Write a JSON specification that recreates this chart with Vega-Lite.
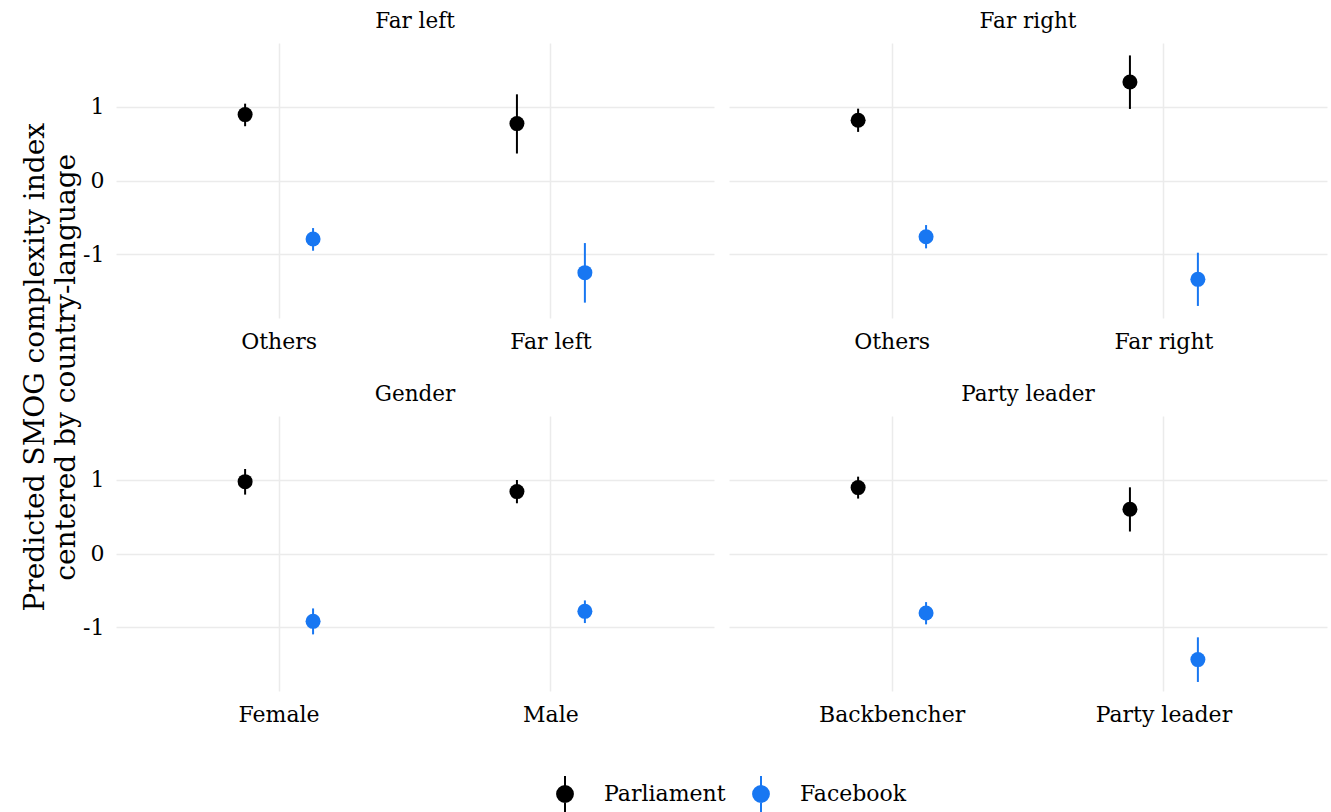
{
  "$schema": "https://vega.github.io/schema/vega-lite/v6.json",
  "background": "white",
  "padding": {"left": 21, "top": 10, "right": 3, "bottom": 2},
  "title": {
    "text": ["Predicted SMOG complexity index", "centered by country-language"],
    "orient": "left",
    "anchor": "middle",
    "font": "DejaVu Serif",
    "fontSize": 28,
    "fontWeight": "normal",
    "lineHeight": 31,
    "color": "black",
    "offset": 2,
    "dx": 46
  },
  "data": {
    "values": [
      {"panel": "Far left", "group": "Others", "source": "Parliament", "est": 0.896, "lo": 0.738, "hi": 1.045},
      {"panel": "Far left", "group": "Others", "source": "Facebook", "est": -0.796, "lo": -0.955, "hi": -0.647},
      {"panel": "Far left", "group": "Far left", "source": "Parliament", "est": 0.774, "lo": 0.367, "hi": 1.172},
      {"panel": "Far left", "group": "Far left", "source": "Facebook", "est": -1.253, "lo": -1.661, "hi": -0.851},
      {"panel": "Far right", "group": "Others", "source": "Parliament", "est": 0.819, "lo": 0.661, "hi": 0.977},
      {"panel": "Far right", "group": "Others", "source": "Facebook", "est": -0.765, "lo": -0.923, "hi": -0.606},
      {"panel": "Far right", "group": "Far right", "source": "Parliament", "est": 1.339, "lo": 0.973, "hi": 1.701},
      {"panel": "Far right", "group": "Far right", "source": "Facebook", "est": -1.344, "lo": -1.706, "hi": -0.982},
      {"panel": "Gender", "group": "Female", "source": "Parliament", "est": 0.977, "lo": 0.801, "hi": 1.149},
      {"panel": "Gender", "group": "Female", "source": "Facebook", "est": -0.923, "lo": -1.1, "hi": -0.747},
      {"panel": "Gender", "group": "Male", "source": "Parliament", "est": 0.842, "lo": 0.683, "hi": 1.0},
      {"panel": "Gender", "group": "Male", "source": "Facebook", "est": -0.787, "lo": -0.946, "hi": -0.638},
      {"panel": "Party leader", "group": "Backbencher", "source": "Parliament", "est": 0.896, "lo": 0.747, "hi": 1.045},
      {"panel": "Party leader", "group": "Backbencher", "source": "Facebook", "est": -0.81, "lo": -0.964, "hi": -0.661},
      {"panel": "Party leader", "group": "Party leader", "source": "Parliament", "est": 0.602, "lo": 0.299, "hi": 0.9},
      {"panel": "Party leader", "group": "Party leader", "source": "Facebook", "est": -1.443, "lo": -1.747, "hi": -1.14}
    ]
  },
  "facet": {
    "field": "panel",
    "type": "nominal",
    "header": {
      "title": null,
      "labelFont": "DejaVu Serif",
      "labelFontSize": 21.5,
      "labelColor": "black",
      "labelPadding": 11
    }
  },
  "columns": 2,
  "spacing": {"column": 15, "row": 31},
  "resolve": {"scale": {"x": "independent", "xOffset": "independent"}},
  "spec": {
    "width": 598,
    "height": 275,
    "encoding": {
      "x": {
        "field": "group",
        "type": "nominal",
        "sort": ["Others", "Far left", "Far right", "Female", "Male", "Backbencher", "Party leader"],
        "scale": {"paddingInner": 0, "paddingOuter": 0.1},
        "axis": {
          "title": null,
          "grid": true,
          "bandPosition": 0.5,
          "ticks": false,
          "domain": false,
          "labelAngle": 0,
          "labelPadding": 13
        }
      },
      "xOffset": {
        "field": "source",
        "type": "nominal",
        "sort": ["Parliament", "Facebook"],
        "scale": {"paddingInner": 0, "paddingOuter": 2.4}
      },
      "color": {
        "field": "source",
        "type": "nominal",
        "sort": ["Parliament", "Facebook"],
        "scale": {"domain": ["Parliament", "Facebook"], "range": ["#000000", "#1877F2"]},
        "legend": {
          "title": " ",
          "titleOrient": "left",
          "titlePadding": 43,
          "titleFontSize": 22,
          "orient": "bottom",
          "direction": "horizontal",
          "symbolType": "M0,-1L0,1M-0.44,0A0.44,0.44,0,1,0,0.44,0A0.44,0.44,0,1,0,-0.44,0Z",
          "symbolSize": 1296,
          "symbolStrokeWidth": 2,
          "symbolOpacity": 1,
          "labelOffset": 20,
          "columnPadding": 16,
          "offset": 50,
          "encode": {
            "symbols": {
              "update": {
                "stroke": {"scale": "color", "field": "value"},
                "fill": {"scale": "color", "field": "value"}
              }
            }
          }
        }
      }
    },
    "layer": [
      {
        "mark": {"type": "rule", "strokeWidth": 2},
        "encoding": {
          "y": {
            "field": "lo",
            "type": "quantitative",
            "scale": {"domain": [-1.87, 1.87], "nice": false, "zero": false},
            "axis": {
              "title": null,
              "values": [-1, 0, 1],
              "grid": true,
              "ticks": false,
              "domain": false,
              "labelPadding": 12,
              "labelExpr": "datum.value + ''"
            }
          },
          "y2": {"field": "hi"}
        }
      },
      {
        "mark": {"type": "point", "filled": true, "size": 225, "opacity": 1},
        "encoding": {
          "y": {"field": "est", "type": "quantitative"}
        }
      }
    ]
  },
  "config": {
    "view": {"stroke": null},
    "font": "DejaVu Serif",
    "axis": {
      "labelFont": "DejaVu Serif",
      "labelFontSize": 22,
      "labelColor": "black",
      "gridColor": "#EBEBEB",
      "gridWidth": 1.5
    },
    "legend": {
      "labelFont": "DejaVu Serif",
      "labelFontSize": 22,
      "labelColor": "black",
      "layout": {"bottom": {"anchor": "middle"}}
    }
  }
}
